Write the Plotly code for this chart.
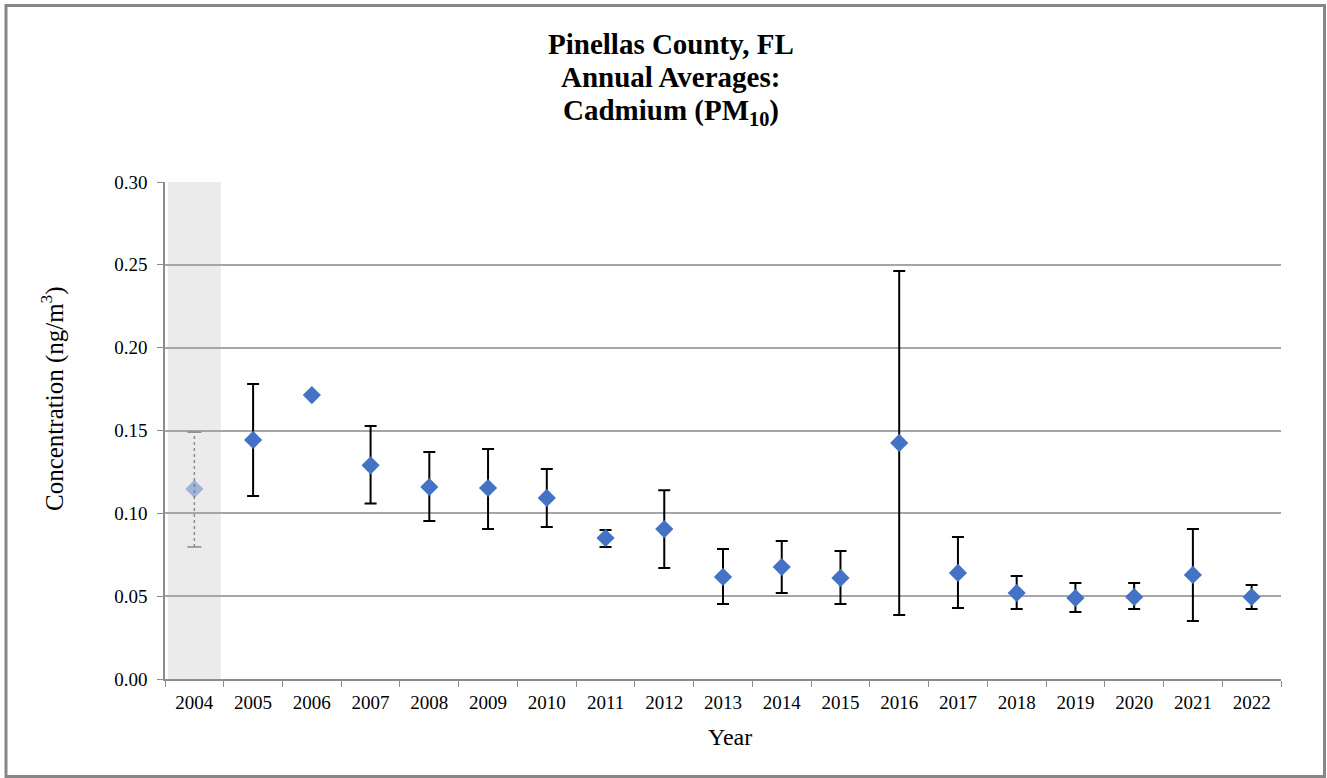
import plotly.graph_objects as go

years = [str(y) for y in range(2004, 2023)]
means = [0.1147, 0.1443, 0.1714, 0.1290, 0.1159, 0.1153, 0.1093, 0.0851, 0.0905, 0.0616,
         0.0676, 0.0610, 0.1425, 0.0640, 0.0519, 0.0489, 0.0495, 0.0628, 0.0495]
upper = [0.1490, 0.1780, None, 0.1527, 0.1370, 0.1388, 0.1268, 0.0899, 0.1140, 0.0785,
         0.0833, 0.0773, 0.2463, 0.0857, 0.0622, 0.0580, 0.0580, 0.0905, 0.0567]
lower = [0.0797, 0.1105, None, 0.1060, 0.0954, 0.0905, 0.0917, 0.0797, 0.0670, 0.0453,
         0.0519, 0.0453, 0.0386, 0.0429, 0.0423, 0.0404, 0.0423, 0.0350, 0.0423]
y_ticks = [0.00, 0.05, 0.10, 0.15, 0.20, 0.25, 0.30]
shaded_year = "2004"
title_lines = ["Pinellas County, FL", "Annual Averages:", "Cadmium (PM<sub>10</sub>)"]
x_title = "Year"
y_title = "Concentration (ng/m<sup>3</sup>)"

W, H = 1327, 778
ML, MR, MT, MB = 165, 46, 182, 99
SERIF = "Liberation Serif"

def err_plus(i):
    return 0 if upper[i] is None else upper[i] - means[i]

def err_minus(i):
    return 0 if lower[i] is None else means[i] - lower[i]

main_idx = [i for i in range(len(years)) if years[i] != shaded_year]
sh_idx = [i for i in range(len(years)) if years[i] == shaded_year]

fig = go.Figure()

# dotted whisker for the shaded (incomplete) year
fig.add_trace(go.Scatter(
    x=[years[i] for i in sh_idx for _ in (0, 1)],
    y=[v for i in sh_idx for v in (lower[i], upper[i])],
    mode="lines", line=dict(color="#8a8a8a", width=1.5, dash="dot"),
    showlegend=False, hoverinfo="skip"))

fig.add_trace(go.Scatter(
    x=[years[i] for i in sh_idx], y=[means[i] for i in sh_idx], mode="markers",
    marker=dict(symbol="diamond", size=14, color="rgba(68,114,196,0.45)",
                line=dict(width=0)),
    showlegend=False, hoverinfo="skip"))

# caps for the shaded year whisker
fig.add_trace(go.Scatter(
    x=[years[i] for i in sh_idx for _ in (0, 1)],
    y=[v for i in sh_idx for v in (lower[i], upper[i])],
    mode="markers", marker=dict(symbol="line-ew", size=10,
                                line=dict(color="#8a8a8a", width=1.5)),
    showlegend=False, hoverinfo="skip"))

fig.add_trace(go.Scatter(
    x=[years[i] for i in main_idx], y=[means[i] for i in main_idx], mode="markers",
    marker=dict(symbol="diamond", size=14, color="#4472C4", line=dict(width=0)),
    error_y=dict(type="data", symmetric=False,
                 array=[err_plus(i) for i in main_idx],
                 arrayminus=[err_minus(i) for i in main_idx],
                 color="black", thickness=2, width=6),
    showlegend=False))

pw = W - ML - MR
ph = H - MT - MB

def px_x(x):
    return (x - ML) / pw

def px_y(y):
    return (H - MB - y) / ph

shapes = [
    dict(type="rect", xref="x", yref="paper", x0=-0.45, x1=0.45, y0=0, y1=1,
         fillcolor="#ebebeb", line=dict(width=0), layer="below"),
    dict(type="rect", xref="paper", yref="paper",
         x0=px_x(6), x1=px_x(1324.5), y0=px_y(776.5), y1=px_y(5.5),
         line=dict(color="#878787", width=3), fillcolor="rgba(0,0,0,0)"),
]

title_centers = [44, 77, 112]
annotations = [
    dict(text="<b>" + t + "</b>", xref="paper", yref="paper",
         x=px_x(W / 2 + 7), y=px_y(cy), xanchor="center", yanchor="middle",
         showarrow=False, font=dict(family=SERIF, size=29, color="black"))
    for t, cy in zip(title_lines, title_centers)
]
annotations.append(dict(
    text=x_title, xref="paper", yref="paper", x=px_x(730), y=px_y(737),
    xanchor="center", yanchor="middle", showarrow=False,
    font=dict(family=SERIF, size=24, color="black")))
annotations.append(dict(
    text=y_title, xref="paper", yref="paper", x=px_x(52), y=px_y(399),
    xanchor="center", yanchor="middle", textangle=-90, showarrow=False,
    font=dict(family=SERIF, size=25, color="black")))

fig.update_layout(
    width=W, height=H,
    margin=dict(l=ML, r=MR, t=MT, b=MB),
    paper_bgcolor="white", plot_bgcolor="white",
    font=dict(family=SERIF, color="black"),
    shapes=shapes,
    annotations=annotations,
    xaxis=dict(
        type="category", categoryorder="array", categoryarray=years,
        range=[-0.5, len(years) - 0.5],
        tickson="boundaries", ticks="outside", ticklen=6, tickcolor="#8c8c8c",
        showline=True, linecolor="#8c8c8c", linewidth=1.5,
        showgrid=False, zeroline=False, ticklabelstandoff=5,
        tickfont=dict(size=19, family=SERIF)),
    yaxis=dict(
        range=[0, 0.30], tickvals=y_ticks, tickformat=".2f",
        ticks="outside", ticklen=6, tickcolor="#8c8c8c",
        showline=True, linecolor="#8c8c8c", linewidth=1.5,
        showgrid=True, gridcolor="#a6a6a6", gridwidth=1.5, zeroline=False,
        ticklabelstandoff=6,
        tickfont=dict(size=19, family=SERIF)),
)

fig.write_html("out.html", config={"displayModeBar": False},
               post_script="document.body.style.margin='0';")
